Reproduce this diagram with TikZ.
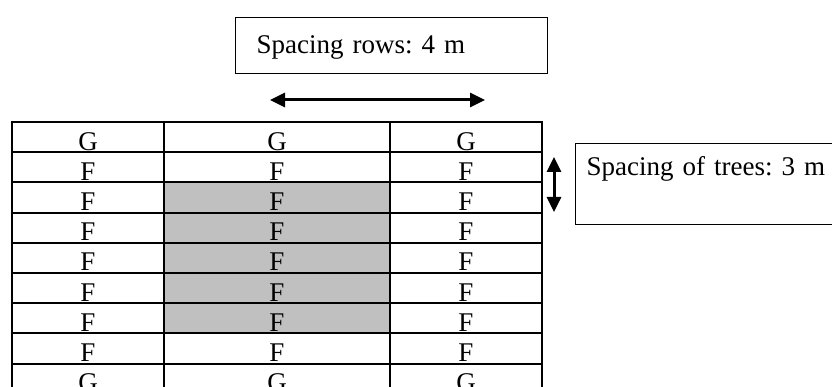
\documentclass[tikz,border=0pt]{standalone}
\usepackage{fontspec}
\setmainfont{Liberation Serif}
\usepackage{xcolor}
\usetikzlibrary{arrows.meta, positioning}
\frenchspacing
\definecolor{Ink}{HTML}{000000}
\definecolor{Shade}{HTML}{C0C0C0}
\tikzset{
  grid/.style={draw=Ink, line width=2pt},
  cell/.style={anchor=base, inner sep=0pt, color=Ink, font=\fontsize{27}{32}\selectfont},
  textbox/.style={draw=Ink, line width=1.2pt, anchor=north west, inner ysep=0pt, align=left, color=Ink, font=\fontsize{27}{32}\selectfont},
  spacing/.style={arrows={Triangle[length=15pt, width=14pt]-Triangle[length=15pt, width=14pt]}, line width=3pt, color=Ink},
}

\begin{document}
\begin{tikzpicture}[x=1pt, y=-1pt]
  \clip (0,0) rectangle (832,387);

  % Shaded block in the middle row
  \fill[Shade] (164,{122+30.2*2}) rectangle (390,{122+30.2*7});

  % Table lines
  \foreach \i in {0,...,9}{
    \draw[grid] (12,{122+30.2*\i}) -- (542,{122+30.2*\i});
  }
  \foreach \x in {12,164,390,542}{
    \draw[grid] (\x,121) -- (\x,400);
  }

  % Trees
  \foreach \r/\t in {0/G,1/F,2/F,3/F,4/F,5/F,6/F,7/F,8/G}{
    \foreach \c/\x in {a/88,b/277,c/466}{
      \node[cell] (tree-\c\r) at (\x,{122+30.2*(\r+1)-2}) {\t};
    }
  }

  % Labels
  \node[textbox, inner xsep=21pt, text width=270pt, text height=36pt, text depth=20pt] (rowsbox) at (235,17) {Spacing rows: 4 m};
  \node[textbox, inner xsep=11pt, text width=260pt, text height=32pt, text depth=49pt] (treesbox) at (575,143) {Spacing of trees: 3 m};

  % Spacing arrows
  \coordinate (rowL) at (270,100);
  \coordinate (rowR) at (485,100);
  \draw[spacing] (rowL) -- (rowR);
  \coordinate (treeT) at (554,157);
  \coordinate (treeB) at (554,212);
  \draw[spacing] (treeT) -- (treeB);
\end{tikzpicture}
\end{document}
